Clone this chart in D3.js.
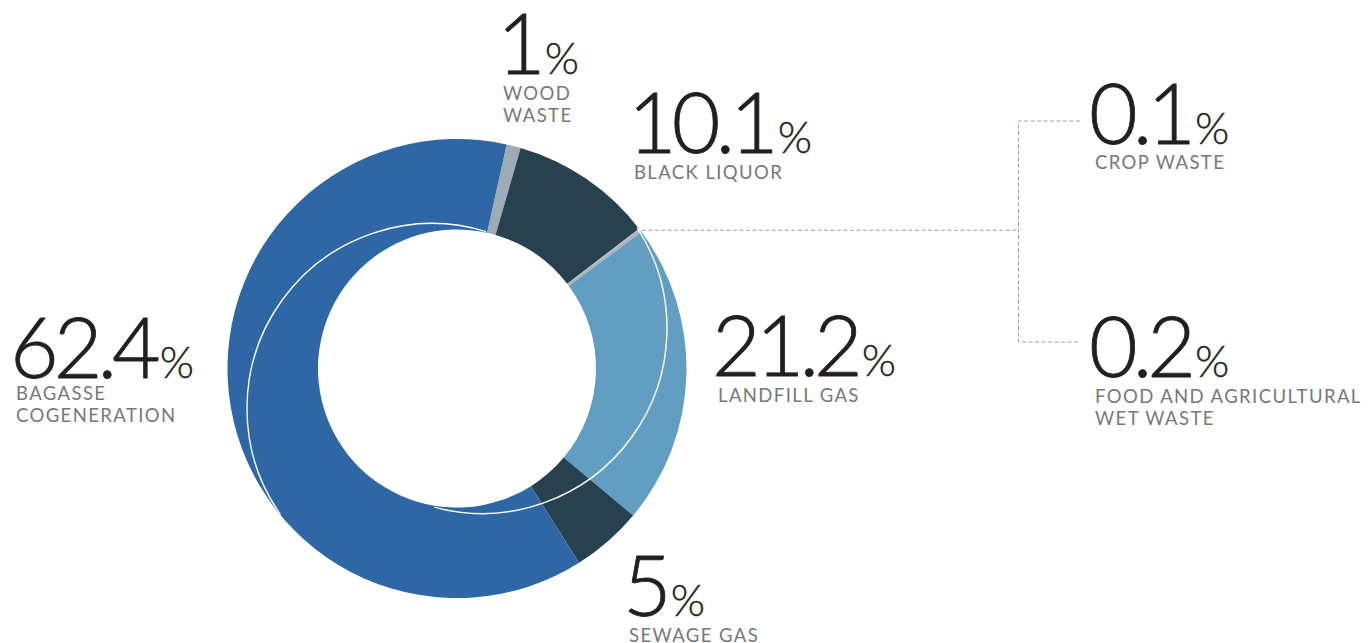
<!DOCTYPE html>
<html>
<head>
<meta charset="utf-8">
<script src="https://cdn.jsdelivr.net/npm/d3@7"></script>
<style>
  html, body { margin: 0; padding: 0; background: #fff; }
  svg { display: block; }
  .num { font-family: Lato, "Open Sans", sans-serif; font-weight: 300; fill: #231f20; stroke: #231f20; stroke-width: 0.8px; }
  .lbl { font-family: Lato, "Open Sans", sans-serif; font-weight: 400; fill: #77787b; letter-spacing: 1.4px; }
</style>
</head>
<body>
<svg id="chart" width="1368" height="643"></svg>
<script>
// Biomass electricity generation by fuel source (share of total, %)
const categories = [
  "Wood waste",
  "Black liquor",
  "Crop waste",
  "Food and agricultural wet waste",
  "Landfill gas",
  "Sewage gas",
  "Bagasse cogeneration"
];
const shares = [1, 10.1, 0.1, 0.2, 21.2, 5, 62.4];
const labelLines = [
  ["WOOD", "WASTE"],
  ["BLACK LIQUOR"],
  ["CROP WASTE"],
  ["FOOD AND AGRICULTURAL", "WET WASTE"],
  ["LANDFILL GAS"],
  ["SEWAGE GAS"],
  ["BAGASSE", "COGENERATION"]
];
const sliceColors = ["#9eacb6", "#28414f", "#a8b3bb", "#a8b3bb", "#629dc2", "#28414f", "#2e66a6"];

// Layout: number baseline-left corner and label drop for each callout
const calloutPos = [
  [497, 74, 26], [628, 153, 26], [1089, 144, 25], [1089, 377, 26],
  [712, 376, 25.5], [623, 616, 25.5], [10, 378, 22]
];

const svg = d3.select("#chart");
const cx = 457, cy = 368.5, rOuter = 229.5, rInner = 139;
const deg = Math.PI / 180;
const start = 12.5 * deg;

const pie = d3.pie().sort(null).value(d => d)
  .startAngle(start).endAngle(start + 2 * Math.PI);
const arcs = pie(shares);
const arc = d3.arc().innerRadius(rInner).outerRadius(rOuter);

const g = svg.append("g").attr("transform", `translate(${cx},${cy})`);

g.selectAll("path.slice")
  .data(arcs)
  .join("path")
  .attr("class", "slice")
  .attr("d", arc)
  .attr("fill", (d, i) => sliceColors[i]);

// Decorative white rings: two offset arcs laid over the donut
const ringR = 185;
const ringOffset = [25, -40];
function ringArc(ox, oy, a0, a1) {
  const p = d3.path();
  // convert clockwise-from-top angles to canvas angles
  p.arc(ox, oy, ringR, (a0 - 90) * deg, (a1 - 90) * deg, false);
  return p.toString();
}
const ringClip = svg.append("defs").append("clipPath").attr("id", "ringClip");
ringClip.append("path").attr("d", d3.arc().innerRadius(rInner).outerRadius(rOuter)
  .startAngle(0).endAngle(2 * Math.PI)());
const rings = g.append("g").attr("clip-path", "url(#ringClip)");
rings.append("path")
  .attr("d", ringArc(ringOffset[0], ringOffset[1], 57, 195))
  .attr("fill", "none").attr("stroke", "#fff").attr("stroke-width", 1.4);
rings.append("path")
  .attr("d", ringArc(-ringOffset[0], -ringOffset[1], 235, 377))
  .attr("fill", "none").attr("stroke", "#fff").attr("stroke-width", 1.4);

// Leader for the two smallest slices
const small = arcs[3];
const leaderY = cy - rOuter * Math.cos(small.startAngle) + 0.5;
const leaderX0 = cx + rOuter * Math.sin(small.startAngle) + 2;
const bracketX = 1018.5;
const topY = calloutPos[2][1] - 23;
const botY = calloutPos[3][1] - 35;
const leader = d3.path();
leader.moveTo(leaderX0, leaderY);
leader.lineTo(bracketX, leaderY);
leader.moveTo(1080, topY);
leader.lineTo(bracketX, topY);
leader.lineTo(bracketX, botY);
leader.lineTo(1080, botY);
svg.append("path")
  .attr("d", leader.toString())
  .attr("fill", "none")
  .attr("stroke", "#93a5b3")
  .attr("stroke-width", 1)
  .attr("stroke-dasharray", "4,2.5");

// Callouts: big value with small percent sign, then category label
const callouts = svg.selectAll("g.callout")
  .data(shares)
  .join("g")
  .attr("class", "callout")
  .attr("transform", (d, i) => `translate(${calloutPos[i][0]},${calloutPos[i][1]})`);

const numText = callouts.append("text")
  .attr("class", "num")
  .attr("x", 0).attr("y", 0);
numText.append("tspan")
  .attr("font-size", 84)
  .attr("letter-spacing", -5)
  .text(d => String(d));
numText.append("tspan")
  .attr("font-size", 44)
  .attr("dx", 4)
  .attr("stroke-width", 0.4)
  .text("%");

callouts.each(function(d, i) {
  const lines = labelLines[i];
  const drop = calloutPos[i][2];
  d3.select(this).selectAll("text.lbl")
    .data(lines)
    .join("text")
    .attr("class", "lbl")
    .attr("x", 6)
    .attr("y", (t, j) => drop + j * 21.5)
    .attr("font-size", 18.5)
    .text(t => t);
});
</script>
</body>
</html>
